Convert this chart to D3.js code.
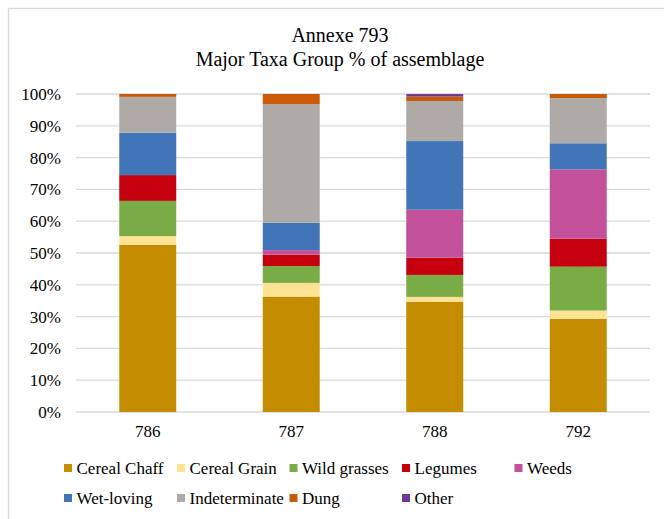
<!DOCTYPE html>
<html>
<head>
<meta charset="utf-8">
<script src="https://cdn.jsdelivr.net/npm/d3@7"></script>
<style>
  html, body { margin: 0; padding: 0; background: #fff; }
  svg { display: block; }
  text { font-family: "Liberation Serif", "Times New Roman", serif; fill: #000; }
</style>
</head>
<body>
<svg id="chart" width="664" height="519"></svg>
<script>
// Samples (contexts) within Annexe 793
const samples = ["786", "787", "788", "792"];

// Percentage of assemblage per taxa group, one array per group, in sample order
const cerealChaff   = [52.6, 36.3, 34.7, 29.3];
const cerealGrain   = [2.7, 4.3, 1.5, 2.6];
const wildGrasses   = [11.1, 5.3, 6.9, 13.8];
const legumes       = [8.1, 3.6, 5.4, 8.8];
const weeds         = [0.0, 1.4, 15.1, 21.8];
const wetLoving     = [13.3, 8.6, 21.6, 8.2];
const indeterminate = [11.3, 37.3, 12.6, 14.2];
const dung          = [0.9, 3.2, 1.4, 1.3];
const other         = [0.0, 0.0, 0.8, 0.0];

const groupNames = ["Cereal Chaff", "Cereal Grain", "Wild grasses", "Legumes", "Weeds",
                    "Wet-loving", "Indeterminate", "Dung", "Other"];
const groupValues = [cerealChaff, cerealGrain, wildGrasses, legumes, weeds,
                     wetLoving, indeterminate, dung, other];
const groupColors = ["#C48D00", "#FFE393", "#7AAC46", "#C4000F", "#C2519A",
                     "#4275B8", "#AEAAA7", "#C85A08", "#6D3A95"];

const yTicks = [0, 10, 20, 30, 40, 50, 60, 70, 80, 90, 100];

const titleLines = ["Annexe 793", "Major Taxa Group % of assemblage"];

// Build row records for d3.stack
const rows = samples.map((s, i) => {
  const r = { sample: s };
  groupNames.forEach((g, k) => { r[g] = groupValues[k][i]; });
  return r;
});
const series = d3.stack().keys(groupNames)(rows);

const svg = d3.select("#chart");

// Chart area border (continues past the window edge)
svg.append("rect")
  .attr("x", 8.5).attr("y", 8.5)
  .attr("width", 700).attr("height", 560)
  .attr("fill", "#fff")
  .attr("stroke", "#d9d9d9").attr("stroke-width", 1.3);

const plot = { left: 76, right: 650, top: 94, bottom: 412 };

const x = d3.scaleBand()
  .domain(samples)
  .range([plot.left, plot.right])
  .paddingInner(0.603)
  .paddingOuter(0.3015);

const y = d3.scaleLinear()
  .domain([0, 100])
  .range([plot.bottom, plot.top]);

// Horizontal gridlines
svg.append("g")
  .selectAll("line")
  .data(yTicks)
  .join("line")
  .attr("x1", plot.left).attr("x2", plot.right)
  .attr("y1", d => y(d)).attr("y2", d => y(d))
  .attr("stroke", "#d9d9d9").attr("stroke-width", 1.3);

// Y axis labels
const yAxis = d3.axisLeft(y).tickValues(yTicks).tickFormat(d => d + "%").tickSize(0).tickPadding(0);
svg.append("g")
  .attr("transform", `translate(61,0)`)
  .call(yAxis)
  .call(g => g.select(".domain").remove())
  .call(g => g.selectAll("text")
    .attr("font-family", "Liberation Serif, serif")
    .attr("font-size", 17)
    .attr("fill", "#000"));

// Stacked bars
svg.append("g")
  .selectAll("g")
  .data(series)
  .join("g")
  .attr("fill", (d, i) => groupColors[i])
  .selectAll("rect")
  .data(d => d)
  .join("rect")
  .attr("x", d => x(d.data.sample))
  .attr("width", x.bandwidth())
  .attr("y", d => y(d[1]))
  .attr("height", d => Math.max(0, y(d[0]) - y(d[1])));

// Category axis
const xAxis = d3.axisBottom(x).tickSize(0).tickPadding(0);
svg.append("g")
  .attr("transform", `translate(0,${plot.bottom + 13})`)
  .call(xAxis)
  .call(g => g.select(".domain").remove())
  .call(g => g.selectAll("text")
    .attr("font-family", "Liberation Serif, serif")
    .attr("font-size", 17)
    .attr("fill", "#000"));

// Title
svg.append("text")
  .attr("x", 340).attr("y", 42)
  .attr("text-anchor", "middle")
  .attr("font-size", 20)
  .selectAll("tspan")
  .data(titleLines)
  .join("tspan")
  .attr("x", 340)
  .attr("dy", (d, i) => i === 0 ? 0 : 24)
  .text(d => d);

// Legend: two rows, five columns
const legendCols = [64, 177, 289.5, 402, 514.5];
const legendRows = [468, 498];
const legendPos = groupNames.map((g, i) => {
  if (i < 5) return { col: legendCols[i], row: legendRows[0] };
  if (i === 8) return { col: legendCols[3], row: legendRows[1] };
  return { col: legendCols[i - 5], row: legendRows[1] };
});

const legend = svg.append("g")
  .selectAll("g")
  .data(groupNames)
  .join("g")
  .attr("transform", (d, i) => `translate(${legendPos[i].col},${legendPos[i].row})`);

legend.append("rect")
  .attr("x", 0).attr("y", -4)
  .attr("width", 8).attr("height", 8)
  .attr("fill", (d, i) => groupColors[i]);

legend.append("text")
  .attr("x", 12.5).attr("y", 0)
  .attr("dy", "0.35em")
  .attr("font-size", 17)
  .text(d => d);
</script>
</body>
</html>
